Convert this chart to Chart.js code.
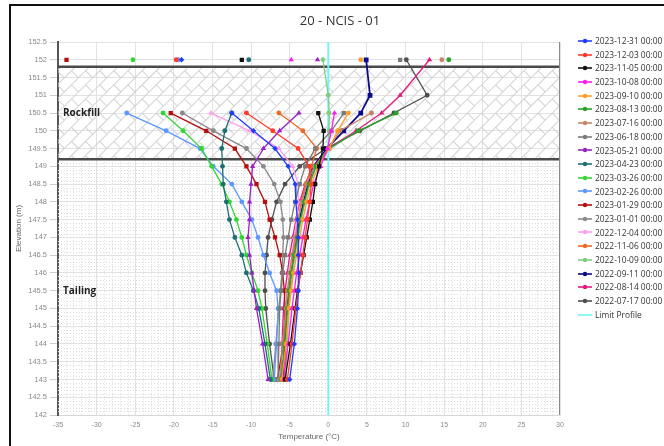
<!DOCTYPE html>
<html>
<head>
<meta charset="utf-8">
<script src="https://cdn.jsdelivr.net/npm/chart.js@4.4.1/dist/chart.umd.min.js"></script>
<style>
  body { margin: 0; background: #fff; font-family: "Open Sans", "DejaVu Sans", sans-serif; }
  #wrap { position: relative; width: 664px; height: 446px; overflow: hidden; }
  #frame { position: absolute; left: 9px; top: 4px; right: -5px; bottom: -5px; border-left: 2px solid #111; border-top: 2px solid #111; pointer-events: none; }
  #title { position: absolute; left: 260px; width: 160px; top: 11px; text-align: center; font-size: 13px; color: #333; }
  #legend { position: absolute; left: 578px; top: 34px; font-size: 8.4px; color: #333; }
  .item { height: 13.7px; line-height: 13.7px; white-space: nowrap; display: flex; align-items: center; }
  .item canvas { margin-right: 3px; }
</style>
</head>
<body>
<div id="wrap">
  <canvas id="chart" width="664" height="446"></canvas>
  <div id="frame"></div>
  <div id="title">20 - NCIS - 01</div>
  <div id="legend"></div>
</div>
<script>
// Elevations of the sensors (m), shared by every reading
const elevations = [152, 151, 150.5, 150, 149.5, 149, 148.5, 148, 147.5, 147, 146.5, 146, 145.5, 145, 144, 143];

// Temperatures (°C) per reading date, same order as elevations (null = no reading)
const t20231231 = [-19.0, null, -12.5, -9.7, -6.9, -5.2, -4.3, -4.2, -4.0, -3.9, -3.9, -3.8, -3.9, -4.0, -4.4, -5.0];
const t20231203 = [-19.7, null, -10.6, -7.2, -3.9, -2.5, -2.2, -2.4, -2.7, -3.0, -3.3, -3.6, -3.9, -4.2, -4.7, -5.3];
const t20231105 = [-11.2, null, -1.3, -0.6, -0.7, -1.2, -1.7, -2.0, -2.4, -2.8, -3.2, -3.6, -4.0, -4.3, -4.9, -5.6];
const t20231008 = [-4.8, null, 0.8, 0.4, -0.1, -1.0, -1.9, -2.4, -2.9, -3.3, -3.7, -4.1, -4.4, -4.7, -5.2, -5.8];
const t20230910 = [4.2, null, 2.6, 1.2, 0.1, -1.3, -2.2, -2.8, -3.3, -3.7, -4.1, -4.5, -4.8, -5.1, -5.5, -6.0];
const t20230813 = [15.6, null, 8.8, 3.9, 0.1, -1.6, -2.5, -3.1, -3.6, -4.0, -4.4, -4.8, -5.1, -5.3, -5.7, -6.1];
const t20230716 = [14.7, null, 5.6, 1.5, 0.0, -1.8, -2.8, -3.4, -3.9, -4.3, -4.7, -5.0, -5.3, -5.5, -5.9, -6.3];
const t20230618 = [9.3, null, 2.0, 0.4, -1.7, -3.0, -3.7, -4.3, -4.8, -5.2, -5.6, -5.9, -6.1, -6.3, -6.4, -6.5];
const t20230521 = [-1.4, null, -3.8, -6.3, -8.4, -9.8, -10.0, -10.2, -10.2, -10.4, -10.2, -9.9, -9.6, -9.3, -8.5, -7.8];
const t20230423 = [-10.3, null, -12.5, -13.4, -13.8, -13.7, -13.6, -13.2, -12.8, -12.1, -11.2, -10.6, -9.7, -9.0, -8.2, -7.5];
const t20230326 = [-25.3, null, -21.4, -18.8, -16.4, -15.1, -13.8, -12.8, -11.9, -11.2, -10.6, -9.9, -9.1, -8.6, -7.9, -7.3];
const t20230226 = [-19.4, null, -26.1, -21.0, -16.6, -14.9, -12.5, -11.2, -9.9, -9.1, -8.4, -7.6, -6.7, -6.5, -6.7, -7.0];
const t20230129 = [-33.9, null, -20.4, -15.8, -12.1, -10.6, -9.3, -8.2, -7.6, -6.9, -6.3, -5.9, -5.7, -5.6, -5.8, -6.6];
const t20230101 = [null, null, -18.9, -14.9, -10.6, -8.4, -7.0, -6.2, -5.9, -5.8, -5.9, -6.0, -6.2, -6.4, -6.8, -7.2];
const t20221204 = [null, null, -15.2, -10.2, -6.4, -4.6, -3.9, -3.9, -4.1, -4.4, -4.7, -5.0, -5.3, -5.5, -5.9, -6.4];
const t20221106 = [null, null, -6.4, -3.3, -1.5, -2.2, -2.9, -3.5, -3.9, -4.2, -4.5, -4.8, -5.0, -5.2, -5.5, -5.7];
const t20221009 = [-0.7, 0.0, 0.1, 0.1, 0.0, -1.5, -2.4, -3.0, -3.5, -3.9, -4.3, -4.6, -4.9, -5.1, -5.3, -5.5];
const t20220911 = [4.9, 5.4, 4.2, 2.0, -0.2, -1.9, -2.6, -3.2, -3.7, -4.1, -4.5, -4.8, -5.1, -5.3, -5.6, -5.9];
const t20220814 = [13.1, 9.3, 6.9, 3.6, 0.0, -2.0, -3.0, -3.7, -4.2, -4.6, -5.0, -5.3, -5.6, -5.8, -6.0, -6.2];
const t20220717 = [10.1, 12.8, 8.5, 4.1, -0.3, -3.7, -5.6, -6.7, -7.3, -7.8, -8.0, -8.2, -8.2, -8.1, -7.6, -7.0];

const readingLabels = [
  "2023-12-31 00:00", "2023-12-03 00:00", "2023-11-05 00:00", "2023-10-08 00:00",
  "2023-09-10 00:00", "2023-08-13 00:00", "2023-07-16 00:00", "2023-06-18 00:00",
  "2023-05-21 00:00", "2023-04-23 00:00", "2023-03-26 00:00", "2023-02-26 00:00",
  "2023-01-29 00:00", "2023-01-01 00:00", "2022-12-04 00:00", "2022-11-06 00:00",
  "2022-10-09 00:00", "2022-09-11 00:00", "2022-08-14 00:00", "2022-07-17 00:00"
];
const readings = [
  t20231231, t20231203, t20231105, t20231008, t20230910, t20230813, t20230716,
  t20230618, t20230521, t20230423, t20230326, t20230226, t20230129, t20230101,
  t20221204, t20221106, t20221009, t20220911, t20220814, t20220717
];

// Limit profile (vertical line at 0 °C)
const limitTemps = [0, 0];
const limitElevs = [142, 152.5];

// Layer boundaries (m)
const rockfillTop = 151.8;
const rockfillBottom = 149.2;

// x / y tick ranges
const xTicks = { min: -35, max: 30, step: 5 };
const yTicks = { min: 142, max: 152.5, step: 0.5 };

// Styles
const colors = [
  "#1f3cff", "#ff3b2b", "#111111", "#ff1cf0", "#ff9d2a", "#2aa22a", "#c48466",
  "#7a7a7a", "#9a22c8", "#1d6e72", "#33d633", "#5b97ff", "#b30f0f", "#8a8a8a",
  "#ff9ef0", "#ec6b25", "#7fcf7f", "#0a0a8a", "#e3197d", "#4f4f4f"
];
const markers = [
  "rectRot", "circle", "rect", "triangle", "circle", "circle", "circle",
  "rect", "triangle", "circle", "circle", "circle", "rect", "circle",
  "triangle", "circle", "circle", "rect", "triangle", "circle"
];

const datasets = readings.map((vals, i) => ({
  label: readingLabels[i],
  data: elevations.map((e, j) => ({ x: vals[j], y: e })),
  showLine: true,
  borderColor: colors[i],
  backgroundColor: colors[i],
  borderWidth: i === 17 ? 1.8 : 1.3,
  pointStyle: markers[i],
  pointRadius: markers[i] === "rect" ? 2.1 : 1.8,
  spanGaps: false
}));
datasets.push({
  label: "Limit Profile",
  data: limitTemps.map((t, j) => ({ x: t, y: limitElevs[j] })),
  showLine: true,
  borderColor: "#74f4f8",
  backgroundColor: "#74f4f8",
  borderWidth: 2,
  pointRadius: 0
});

// brick hatch for the rockfill layer
function brickPattern(ctx) {
  const tile = document.createElement("canvas");
  tile.width = 20;
  tile.height = 20;
  const t = tile.getContext("2d");
  t.strokeStyle = "#d2d2d2";
  t.lineWidth = 1;
  t.beginPath();
  t.moveTo(0, 0.5); t.lineTo(20, 0.5);
  t.moveTo(0, 10.5); t.lineTo(20, 10.5);
  t.moveTo(0.5, 0); t.lineTo(0.5, 10);
  t.moveTo(10.5, 10); t.lineTo(10.5, 20);
  t.stroke();
  const p = ctx.createPattern(tile, "repeat");
  p.setTransform(new DOMMatrix().rotate(-45));
  return p;
}

const layersPlugin = {
  id: "layers",
  beforeDatasetsDraw(chart) {
    const { ctx, chartArea: a, scales } = chart;
    const x = scales.x, y = scales.y;
    const yTop = y.getPixelForValue(rockfillTop);
    const yBot = y.getPixelForValue(rockfillBottom);
    ctx.save();

    // dotted minor grid in the tailing
    ctx.strokeStyle = "#dcdcdc";
    ctx.lineWidth = 1;
    ctx.setLineDash([1, 2]);
    ctx.beginPath();
    for (let v = xTicks.min + 1; v < xTicks.max; v++) {
      if (v % 5 === 0) continue;
      const px = Math.round(x.getPixelForValue(v)) + 0.5;
      ctx.moveTo(px, yBot);
      ctx.lineTo(px, a.bottom);
    }
    for (let k = 1; k < 72; k++) {
      const v = yTicks.min + k * 0.1;
      if (v >= rockfillBottom) break;
      if (k % 5 === 0) continue;
      const py = Math.round(y.getPixelForValue(v)) + 0.5;
      ctx.moveTo(a.left, py);
      ctx.lineTo(a.right, py);
    }
    ctx.stroke();
    ctx.setLineDash([]);

    // rockfill hatch
    ctx.fillStyle = brickPattern(ctx);
    ctx.fillRect(a.left, yTop, a.right - a.left, yBot - yTop);

    // layer boundaries
    ctx.strokeStyle = "#4a4a4a";
    ctx.lineWidth = 2.5;
    ctx.beginPath();
    ctx.moveTo(a.left, yTop); ctx.lineTo(a.right, yTop);
    ctx.moveTo(a.left, yBot); ctx.lineTo(a.right, yBot);
    ctx.stroke();

    // right edge
    ctx.strokeStyle = "#8a8a8a";
    ctx.lineWidth = 1;
    ctx.beginPath();
    ctx.moveTo(a.right - 0.5, a.top); ctx.lineTo(a.right - 0.5, a.bottom);
    ctx.stroke();

    // layer names
    ctx.fillStyle = "#222";
    ctx.font = "bold 10px 'Open Sans', sans-serif";
    ctx.textBaseline = "middle";
    ctx.fillText("Rockfill", a.left + 5, y.getPixelForValue(150.5));
    ctx.fillText("Tailing", a.left + 5, y.getPixelForValue(145.5));
    ctx.restore();
  }
};

const ctx = document.getElementById("chart").getContext("2d");
new Chart(ctx, {
  type: "scatter",
  data: { datasets: datasets },
  plugins: [layersPlugin],
  options: {
    responsive: false,
    animation: false,
    events: [],
    layout: { padding: { left: 10, right: 104, top: 42, bottom: 0 } },
    plugins: {
      legend: { display: false },
      title: { display: false },
      tooltip: { enabled: false }
    },
    scales: {
      x: {
        type: "linear",
        min: xTicks.min,
        max: xTicks.max,
        afterFit(scale) { scale.height = 31; },
        ticks: { stepSize: xTicks.step, color: "#8a8a8a", font: { size: 7 }, padding: 2, maxRotation: 0 },
        grid: { color: "#e2e2e2", tickLength: 4, tickColor: "#ffffff" },
        border: { color: "#d8d8d8" },
        title: { display: true, text: "Temperature (°C)", color: "#666", font: { size: 8 }, padding: { top: 0, bottom: 4 } }
      },
      y: {
        type: "linear",
        min: yTicks.min,
        max: yTicks.max,
        afterFit(scale) { scale.width = 48; },
        ticks: {
          stepSize: yTicks.step,
          color: "#8a8a8a",
          font: { size: 7.5 },
          padding: 3,
          callback: (v) => String(v)
        },
        grid: { color: "#e2e2e2", tickLength: 8, tickColor: "#d0d0d0" },
        border: { color: "#555", width: 2 },
        title: { display: true, text: "Elevation (m)", color: "#666", font: { size: 8 }, padding: { top: 4, bottom: 0 } }
      }
    }
  }
});

// HTML legend built from the same labels / styles
const legend = document.getElementById("legend");
datasets.forEach((ds) => {
  const row = document.createElement("div");
  row.className = "item";
  const c = document.createElement("canvas");
  c.width = 14;
  c.height = 8;
  const g = c.getContext("2d");
  g.strokeStyle = ds.borderColor;
  g.fillStyle = ds.borderColor;
  g.lineWidth = 1.6;
  g.beginPath();
  g.moveTo(0, 4); g.lineTo(14, 4);
  g.stroke();
  if (ds.pointRadius) {
    g.beginPath();
    g.arc(7, 4, 2.2, 0, Math.PI * 2);
    g.fill();
  }
  row.appendChild(c);
  const span = document.createElement("span");
  span.textContent = ds.label;
  row.appendChild(span);
  legend.appendChild(row);
});
</script>
</body>
</html>
